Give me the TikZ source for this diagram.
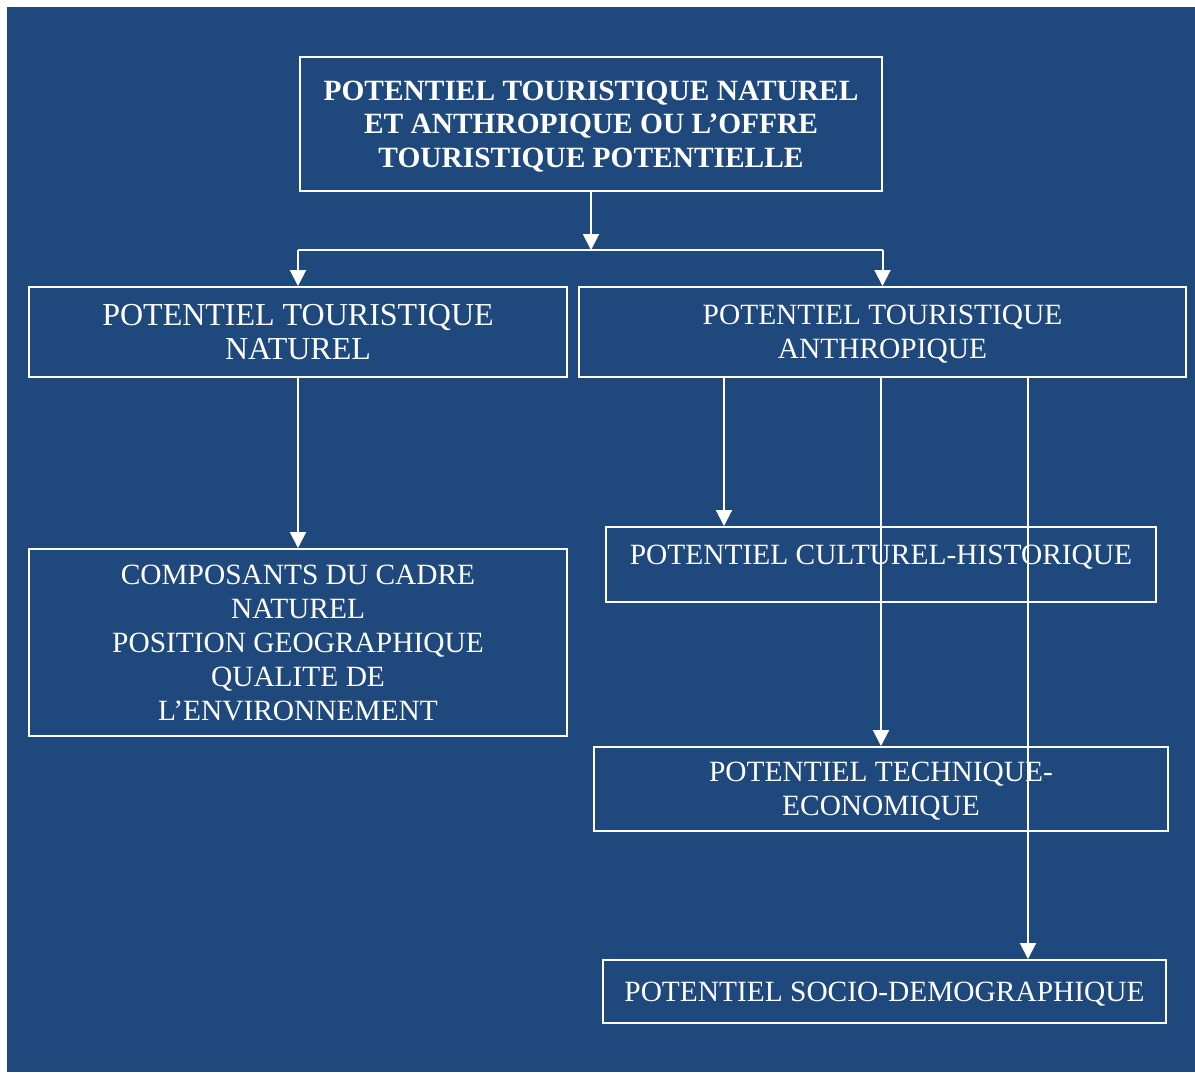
\documentclass[tikz,border=0pt]{standalone}
\usepackage{fontspec}
\setmainfont{Liberation Serif}
\usetikzlibrary{arrows.meta}
\definecolor{bgblue}{RGB}{31,73,125}

\begin{document}
\begin{tikzpicture}[x=0.5pt,y=-0.5pt,
   box/.style={draw=white,line width=1pt,text=white,align=center,inner sep=0pt,
     text depth=0pt,font=\fontsize{14.7}{17}\selectfont},
   arr/.style={white,line width=1pt,-{Triangle[width=8pt,length=8pt]}}]
  % ---------- page and background ----------
  \useasboundingbox (0,0) rectangle (1195,1072);
  \fill[bgblue] (7,7) rectangle (1195,1072);
  % ---------- boxes ----------
  \node[box,minimum width=291pt,minimum height=67pt,
        font=\fontsize{14.7}{16.75}\selectfont\bfseries] (top) at (591,124)
    {POTENTIEL TOURISTIQUE NATUREL\\ET ANTHROPIQUE OU L’OFFRE\\TOURISTIQUE POTENTIELLE};
  \node[box,minimum width=269pt,minimum height=45pt,
        font=\fontsize{16}{17}\selectfont] (naturel) at (298,332)
    {POTENTIEL TOURISTIQUE\\NATUREL};
  \node[box,minimum width=303.5pt,minimum height=45pt] (anthropique) at (882.5,332)
    {POTENTIEL TOURISTIQUE\\ANTHROPIQUE};
  \node[box,minimum width=269pt,minimum height=93.5pt] (composants) at (298,642.5)
    {COMPOSANTS DU CADRE\\NATUREL\\POSITION GEOGRAPHIQUE\\QUALITE DE\\L’ENVIRONNEMENT};
  \node[box,minimum width=275pt,minimum height=37.5pt,text depth=10pt] (culturel) at (881,564.5)
    {POTENTIEL CULTUREL-HISTORIQUE};
  \node[box,minimum width=287pt,minimum height=42pt] (technique) at (881,789)
    {POTENTIEL TECHNIQUE-\\ECONOMIQUE};
  \node[box,minimum width=281.5pt,minimum height=31.5pt] (socio) at (884.5,991.5)
    {POTENTIEL SOCIO-DEMOGRAPHIQUE};
  % ---------- connectors ----------
  \coordinate (split) at (591,250);
  \coordinate (lsplit) at (naturel.north |- split);
  \coordinate (rsplit) at (anthropique.north |- split);
  \draw[arr] (top.south) -- (split);
  \draw[white,line width=1pt] (lsplit) -- (rsplit);
  \draw[arr] (lsplit) -- (naturel.north);
  \draw[arr] (rsplit) -- (anthropique.north);
  \draw[arr] (naturel.south) -- (composants.north);
  \draw[arr] (anthropique.south -| 724,0) -- (culturel.north -| 724,0);
  \draw[arr] (anthropique.south -| technique.north) -- (technique.north);
  \draw[arr] (anthropique.south -| 1028,0) -- (socio.north -| 1028,0);
\end{tikzpicture}
\end{document}
